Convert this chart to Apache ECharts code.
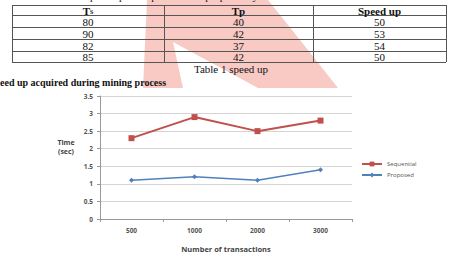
<!DOCTYPE html>
<html>
<head>
<meta charset="utf-8">
<script src="https://cdn.jsdelivr.net/npm/echarts@6/dist/echarts.min.js"></script>
<style>
html,body{margin:0;padding:0;background:#fff;}
#chart{width:451px;height:254px;}
</style>
</head>
<body>
<div id="chart"></div>
<script>
// ---- data ----
const tableHeaders = ['T', 'Tp', 'Speed up'];
const tsValues = [80, 90, 82, 85];
const tpValues = [40, 42, 37, 42];
const speedupValues = [50, 53, 54, 50];
const tableCaption = 'Table 1 speed up';
const headingText = 'eed up acquired during mining process';

const categories = ['500', '1000', '2000', '3000'];
const sequential = [2.3, 2.9, 2.5, 2.8];
const proposed = [1.1, 1.2, 1.1, 1.4];
const yTicks = [0, 0.5, 1, 1.5, 2, 2.5, 3, 3.5];

// ---- layout ----
const rowLines = [5, 15, 27, 39, 51, 62];
const colLines = [12, 164, 313, 446];
const serif = '"Liberation Serif", "DejaVu Serif", serif';
const sans = '"Open Sans", "Liberation Sans", sans-serif';

const chart = echarts.init(document.getElementById('chart'), null, {renderer: 'svg'});

const graphics = [];
// watermark
graphics.push({
  type: 'polygon', z: 0, silent: true,
  shape: {points: [[147,0],[268,0],[300,40],[338,88],[258,88],[173,42],[183,88],[143,88]]},
  style: {fill: 'rgba(235,75,60,0.30)'}
});
// cut top line of text
graphics.push({
  type: 'text', z: 5, left: 4, top: -10,
  style: {text: 'Table 1 shows the speed up of sequential and proposed system.', font: '11px ' + serif, fill: '#111'}
});
// table lines
rowLines.forEach(y => graphics.push({
  type: 'line', z: 5, shape: {x1: colLines[0], y1: y + 0.5, x2: colLines[3], y2: y + 0.5},
  style: {stroke: '#555', lineWidth: 1}
}));
colLines.forEach(x => graphics.push({
  type: 'line', z: 5, shape: {x1: x + 0.5, y1: rowLines[0], x2: x + 0.5, y2: rowLines[5]},
  style: {stroke: '#555', lineWidth: 1}
}));
const colCenters = [0,1,2].map(i => (colLines[i] + colLines[i + 1]) / 2);
function cellText(txt, col, row, bold, rich) {
  const yc = (rowLines[row] + rowLines[row + 1]) / 2;
  const g = {
    type: 'text', z: 6, x: colCenters[col], y: yc + 0.5,
    style: {text: txt, font: (bold ? 'bold ' : '') + '11px ' + serif, fill: '#111', align: 'center', verticalAlign: 'middle'}
  };
  if (rich) g.style.rich = rich;
  graphics.push(g);
}
cellText('{b|' + tableHeaders[0] + '}{s|S}', 0, 0, true, {
  b: {font: 'bold 11px ' + serif, fill: '#111', lineHeight: 10},
  s: {font: 'bold 6px ' + serif, fill: '#111', padding: [3, 0, 0, 0], lineHeight: 10}
});
cellText(tableHeaders[1], 1, 0, true);
cellText(tableHeaders[2], 2, 0, true);
for (let i = 0; i < tsValues.length; i++) {
  cellText(String(tsValues[i]), 0, i + 1, false);
  cellText(String(tpValues[i]), 1, i + 1, false);
  cellText(String(speedupValues[i]), 2, i + 1, false);
}
graphics.push({
  type: 'text', z: 6, x: 231, y: 69,
  style: {text: tableCaption, font: '11px ' + serif, fill: '#111', align: 'center', verticalAlign: 'middle'}
});
graphics.push({
  type: 'text', z: 6, x: 0, y: 82,
  style: {text: headingText, font: 'bold 10px ' + serif, fill: '#111', align: 'left', verticalAlign: 'middle'}
});
// y axis name
graphics.push({
  type: 'text', z: 6, x: 66, y: 147,
  style: {text: 'Time\n(sec)', font: 'bold 7px ' + sans, fill: '#444', align: 'center', verticalAlign: 'middle', lineHeight: 9}
});

const labelStyle = {fontFamily: sans, fontSize: 6.5, fontWeight: 'bold', color: '#555'};

chart.setOption({
  animation: false,
  backgroundColor: '#fff',
  graphic: graphics,
  grid: {left: 100, right: 99, top: 96, bottom: 32, containLabel: false},
  legend: {
    orient: 'vertical', left: 356, top: 156, itemGap: 5,
    itemWidth: 20, itemHeight: 6,
    textStyle: {fontFamily: sans, fontSize: 6, color: '#555'},
    data: ['Sequential', 'Proposed']
  },
  xAxis: {
    type: 'category', data: categories, boundaryGap: true,
    name: 'Number of transactions', nameLocation: 'middle', nameGap: 26,
    nameTextStyle: {fontFamily: sans, fontSize: 7.5, fontWeight: 'bold', color: '#444'},
    axisLine: {lineStyle: {color: '#999', width: 1}},
    axisTick: {show: true, alignWithLabel: false, length: 3, lineStyle: {color: '#999'}},
    axisLabel: Object.assign({margin: 8}, labelStyle),
    splitLine: {show: false}
  },
  yAxis: {
    type: 'value', min: yTicks[0], max: yTicks[yTicks.length - 1], interval: 0.5,
    axisLine: {show: true, lineStyle: {color: '#999', width: 1}},
    axisTick: {show: true, length: 3, lineStyle: {color: '#999'}},
    axisLabel: Object.assign({margin: 7}, labelStyle),
    splitLine: {show: true, lineStyle: {color: '#d4d4d4', width: 1}}
  },
  series: [
    {
      name: 'Sequential', type: 'line', data: sequential,
      symbol: 'rect', symbolSize: 6, showAllSymbol: true,
      lineStyle: {color: '#C0504D', width: 2},
      itemStyle: {color: '#C0504D'}, z: 3
    },
    {
      name: 'Proposed', type: 'line', data: proposed,
      symbol: 'diamond', symbolSize: 5, showAllSymbol: true,
      lineStyle: {color: '#4F81BD', width: 1.5},
      itemStyle: {color: '#4F81BD'}, z: 3
    }
  ]
});
</script>
</body>
</html>
